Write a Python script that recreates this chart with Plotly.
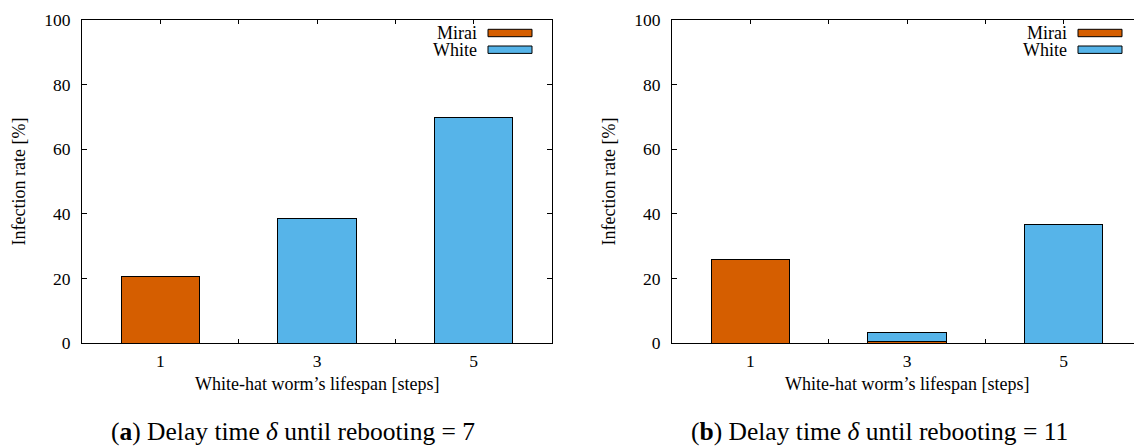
import plotly.graph_objects as go

# ---- data ----
lifespan = [1, 3, 5]
tick_labels = ["1", "", "3", "", "5"]
mirai_a = [20.6, 0, 0]
white_a = [0, 38.7, 69.8]
mirai_b = [25.8, 0.5, 0]
white_b = [0.2, 2.9, 36.9]
captions = ["(<b>a</b>) Delay time <i>δ</i> until rebooting = 7",
            "(<b>b</b>) Delay time <i>δ</i> until rebooting = 11"]
series_names = ["Mirai", "White"]

W, H = 1134, 447
ORANGE = "#D55E00"
BLUE = "#56B4E9"
FONT = "Liberation Serif, DejaVu Serif, serif"

def px(x):
    return x / W

def py(y):
    return (H - y) / H

fig = go.Figure()

bar_style = dict(width=1, marker_line_color="black", marker_line_width=1, showlegend=False)
fig.add_trace(go.Bar(x=lifespan, y=mirai_a, marker_color=ORANGE, name="Mirai", xaxis="x", yaxis="y", **bar_style))
fig.add_trace(go.Bar(x=lifespan, y=white_a, marker_color=BLUE, name="White", xaxis="x", yaxis="y", **bar_style))
fig.add_trace(go.Bar(x=lifespan, y=mirai_b, marker_color=ORANGE, name="Mirai", xaxis="x2", yaxis="y2", **bar_style))
fig.add_trace(go.Bar(x=lifespan, y=white_b, marker_color=BLUE, name="White", xaxis="x2", yaxis="y2", **bar_style))

left0, left1 = 82, 552
offset = 590
top, bottom = 20, 343.3
unit = (left1 - left0) / 6.0

xcommon = dict(tickvals=[1, 2, 3, 4, 5], ticktext=tick_labels, ticks="inside", ticklen=4,
               tickwidth=1, tickcolor="black", showline=True, linecolor="black", linewidth=1,
               mirror="ticks", showgrid=False, zeroline=False, layer="below traces", automargin=False,
               tickfont=dict(family=FONT, size=17.5, color="black"), ticklabelstandoff=2)
ycommon = dict(range=[0, 100], tickvals=[0, 20, 40, 60, 80, 100], ticks="inside", ticklen=5,
               tickwidth=1, tickcolor="black", showline=True, linecolor="black", linewidth=1,
               showgrid=False, zeroline=False, layer="below traces", automargin=False,
               tickfont=dict(family=FONT, size=17.5, color="black"), ticklabelstandoff=7)

ydom = [py(bottom), py(top)]
fig.update_layout(
    width=W, height=H, margin=dict(l=0, r=0, t=0, b=0, pad=0, autoexpand=False),
    paper_bgcolor="white", plot_bgcolor="white",
    barmode="stack", showlegend=False,
    xaxis=dict(domain=[px(left0), px(left1)], range=[0, 6], anchor="y", **xcommon),
    yaxis=dict(domain=ydom, anchor="x", mirror="ticks", **ycommon),
    xaxis2=dict(domain=[px(left0 + offset), 1], range=[0, (W - left0 - offset) / unit], anchor="y2", **xcommon),
    yaxis2=dict(domain=ydom, anchor="x2", mirror=False, **ycommon),
)

annotations = []
shapes = []
colors = [ORANGE, BLUE]
for k in range(2):
    dx = k * offset
    # axis titles
    annotations.append(dict(x=px(317 + dx), y=py(384), xref="paper", yref="paper",
                            text="White-hat worm’s lifespan [steps]", showarrow=False,
                            xanchor="center", yanchor="middle",
                            font=dict(family=FONT, size=18, color="black")))
    annotations.append(dict(x=px(18 + dx), y=py(181.5), xref="paper", yref="paper",
                            text="Infection rate [%]", showarrow=False, textangle=-90,
                            xanchor="center", yanchor="middle",
                            font=dict(family=FONT, size=18, color="black")))
    # caption
    annotations.append(dict(x=px(292.5 + dx * 0.995), y=py(431), xref="paper", yref="paper",
                            text=captions[k], showarrow=False, xanchor="center", yanchor="middle",
                            font=dict(family=FONT, size=25.5, color="black")))
    # legend
    for i, name in enumerate(series_names):
        y0, y1 = 29.3 + i * 16.7, 36.7 + i * 16.7
        shapes.append(dict(type="rect", xref="paper", yref="paper",
                           x0=px(488 + dx), x1=px(532 + dx), y0=py(y1), y1=py(y0),
                           fillcolor=colors[i], line=dict(color="black", width=1)))
        annotations.append(dict(x=px(479 + dx), y=py((y0 + y1) / 2), xref="paper", yref="paper",
                                text=name, showarrow=False, xanchor="right", yanchor="middle",
                                font=dict(family=FONT, size=18, color="black")))

fig.update_layout(annotations=annotations, shapes=shapes)
fig.write_html("out.html")
